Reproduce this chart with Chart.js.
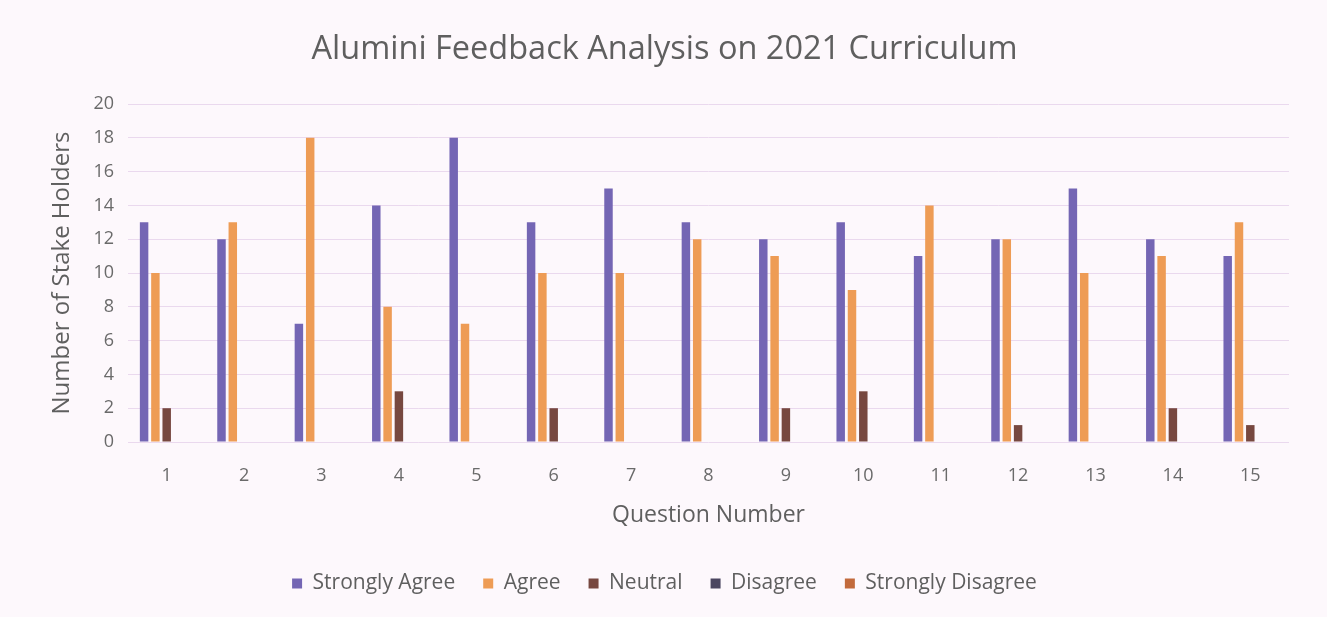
<!DOCTYPE html>
<html>
<head>
<meta charset="utf-8">
<script src="https://cdn.jsdelivr.net/npm/chart.js@4.4.1/dist/chart.umd.min.js"></script>
<style>
  html, body { margin: 0; padding: 0; background: #fdf8fc; }
  #wrap { position: absolute; left: 0; top: 0; width: 1327px; height: 617px; }
</style>
</head>
<body>
<div id="wrap"><canvas id="c" width="1327" height="617"></canvas></div>
<script>
const categories = ["1","2","3","4","5","6","7","8","9","10","11","12","13","14","15"];
const stronglyAgree = [13,12,7,14,18,13,15,13,12,13,11,12,15,12,11];
const agree = [10,13,18,8,7,10,10,12,11,9,14,12,10,11,13];
const neutral = [2,0,0,3,0,2,0,0,2,3,0,1,0,2,1];
const disagree = [0,0,0,0,0,0,0,0,0,0,0,0,0,0,0];
const stronglyDisagree = [0,0,0,0,0,0,0,0,0,0,0,0,0,0,0];
const yTicks = [0,2,4,6,8,10,12,14,16,18,20];

const FONT = "'Open Sans', sans-serif";
const bgPlugin = {
  id: 'bg',
  beforeDraw(chart) {
    const ctx = chart.ctx;
    ctx.save();
    ctx.fillStyle = '#fdf8fc';
    ctx.fillRect(0, 0, chart.width, chart.height);
    ctx.restore();
  }
};

const mk = (label, data, color) => ({
  label, data, backgroundColor: color, borderWidth: 0,
  categoryPercentage: 0.73, barPercentage: 0.75
});

new Chart(document.getElementById('c'), {
  type: 'bar',
  data: {
    labels: categories,
    datasets: [
      mk('Strongly Agree', stronglyAgree, '#7466b4'),
      mk('Agree', agree, '#ee9c55'),
      mk('Neutral', neutral, '#774840'),
      mk('Disagree', disagree, '#4b4660'),
      mk('Strongly Disagree', stronglyDisagree, '#c26a3c')
    ]
  },
  options: {
    responsive: false,
    animation: false,
    layout: { padding: { left: 40, right: 38, top: 22, bottom: 13 } },
    plugins: {
      title: {
        display: true,
        text: 'Alumini Feedback Analysis on 2021 Curriculum',
        color: '#5f5f5f',
        font: { family: FONT, size: 32.5, weight: 'normal' },
        padding: { top: 8.5, bottom: 34.5 }
      },
      legend: {
        position: 'bottom',
        labels: {
          color: '#5f5f5f',
          font: { family: FONT, size: 21 },
          boxWidth: 10, boxHeight: 10, padding: 28
        }
      },
      tooltip: { enabled: false }
    },
    scales: {
      x: {
        afterFit(scale) { scale.height = 103; },
        grid: { display: false },
        border: { display: false },
        ticks: { color: '#6a6a6a', font: { family: FONT, size: 18 }, padding: 15 },
        title: {
          display: true, text: 'Question Number', color: '#5f5f5f',
          font: { family: FONT, size: 23 }, padding: { top: 6, bottom: 16 }
        }
      },
      y: {
        min: 0, max: 20,
        afterBuildTicks(scale) { scale.ticks = yTicks.map(v => ({ value: v })); },
        afterFit(scale) { scale.width = 88; },
        grid: { color: '#ead9ee', lineWidth: 1, drawTicks: false },
        border: { display: false },
        ticks: { color: '#6a6a6a', font: { family: FONT, size: 18 }, padding: 14 },
        title: {
          display: true, text: 'Number of Stake Holders', color: '#5f5f5f',
          font: { family: FONT, size: 24 }, padding: { top: 7.5, bottom: 0 }
        }
      }
    }
  },
  plugins: [bgPlugin]
});
</script>
</body>
</html>
